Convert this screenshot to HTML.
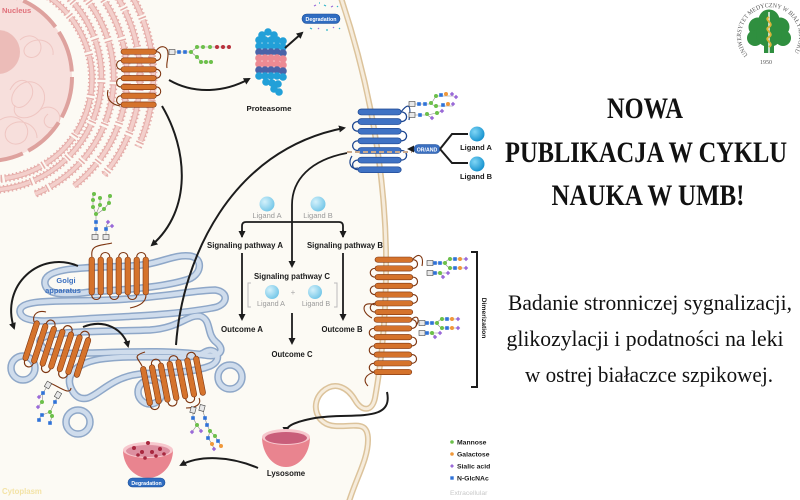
<!DOCTYPE html>
<html><head><meta charset="utf-8">
<style>
html,body{margin:0;padding:0;background:#fff;}
svg{display:block;}
text{font-family:"Liberation Sans",sans-serif;}
.s{font-family:"Liberation Serif",serif;}
.b{font-weight:bold;}
</style></head><body>
<svg width="800" height="500" viewBox="0 0 800 500" xmlns="http://www.w3.org/2000/svg">
<defs>
 <marker id="ah" markerWidth="8" markerHeight="8" refX="5" refY="4" orient="auto" markerUnits="userSpaceOnUse"><path d="M0,0.5 L7,4 L0,7.5 Z" fill="#1c1c1c"/></marker>
 <g id="r7h">
  <rect x="0" y="0" width="36" height="5.5" rx="2.75" stroke-width=".6"/>
  <rect x="0" y="9" width="36" height="5.5" rx="2.75" stroke-width=".6"/>
  <rect x="0" y="18" width="36" height="5.5" rx="2.75" stroke-width=".6"/>
  <rect x="0" y="27" width="36" height="5.5" rx="2.75" stroke-width=".6"/>
  <rect x="0" y="36" width="36" height="5.5" rx="2.75" stroke-width=".6"/>
  <rect x="0" y="45" width="36" height="5.5" rx="2.75" stroke-width=".6"/>
  <rect x="0" y="54" width="36" height="5.5" rx="2.75" stroke-width=".6"/>
  <path fill="none" stroke-width="1.1" d="M36,2.75c6,0 6,9 0,9 M0,11.75c-6,0 -6,9 0,9 M36,20.75c6,0 6,9 0,9 M0,29.75c-6,0 -6,9 0,9 M36,38.75c6,0 6,9 0,9 M0,47.75c-6,0 -6,9 0,9"/>
 </g>
 <g id="r7v">
  <rect x="0" y="0" width="5.5" height="38" rx="2.75" stroke-width=".6"/>
  <rect x="9" y="0" width="5.5" height="38" rx="2.75" stroke-width=".6"/>
  <rect x="18" y="0" width="5.5" height="38" rx="2.75" stroke-width=".6"/>
  <rect x="27" y="0" width="5.5" height="38" rx="2.75" stroke-width=".6"/>
  <rect x="36" y="0" width="5.5" height="38" rx="2.75" stroke-width=".6"/>
  <rect x="45" y="0" width="5.5" height="38" rx="2.75" stroke-width=".6"/>
  <rect x="54" y="0" width="5.5" height="38" rx="2.75" stroke-width=".6"/>
  <path fill="none" stroke-width="1.1" d="M2.75,38c0,6 9,6 9,0 M11.75,0c0,-6 9,-6 9,0 M20.75,38c0,6 9,6 9,0 M29.75,0c0,-6 9,-6 9,0 M38.75,38c0,6 9,6 9,0 M47.75,0c0,-6 9,-6 9,0"/>
 </g>
 <circle id="gm" r="2" fill="#6cc04a"/>
 <circle id="gg" r="2" fill="#f0983a"/>
 <circle id="gr" r="2" fill="#b8323c"/>
 <rect id="gn" x="-1.8" y="-1.8" width="3.6" height="3.6" fill="#2f72d8"/>
 <path id="gs" d="M0,-2.2 L2.2,0 L0,2.2 L-2.2,0Z" fill="#9a6ad8"/>
 <rect id="gb" x="-3" y="-2.5" width="6" height="5" fill="#e8e8e8" stroke="#444" stroke-width=".6"/>
 <radialGradient id="lb" cx=".35" cy=".35" r=".75"><stop offset="0" stop-color="#d4f1fb"/><stop offset="1" stop-color="#6cc3e6"/></radialGradient>
 <radialGradient id="db" cx=".35" cy=".35" r=".75"><stop offset="0" stop-color="#7fd6f6"/><stop offset="1" stop-color="#0d8ccb"/></radialGradient>
 <g id="golgi">
  <path d="M45,284 C42,266 90,268 130,266 C160,265 172,254 190,256 C204,258 202,276 186,280 C160,288 120,290 90,292 C60,296 47,294 45,284 Z"/>
  <path d="M20,312 C18,298 60,302 110,300 C160,298 195,290 215,290 C230,292 228,306 212,308 C180,314 140,316 100,318 C60,320 22,326 20,312 Z"/>
  <path d="M40,342 C38,330 100,332 150,330 C180,328 188,314 200,316 C212,320 206,334 216,342 C226,350 220,358 204,355 C170,350 130,352 90,353 C60,354 42,354 40,342 Z"/>
  <path d="M72,390 C62,372 82,360 110,358 C150,354 190,362 205,352 C216,346 224,360 210,366 C190,374 160,372 140,374 C112,377 100,394 88,398 C80,400 75,396 72,390 Z"/>
  <circle cx="23" cy="368" r="12"/>
  <circle cx="78" cy="422" r="12"/>
  <circle cx="230" cy="377" r="12"/>
  <circle cx="150" cy="392" r="12"/>
 </g>
 <g id="er">
  <path d="M38,-9.6 A100,100 0 0 1 -54,168"/>
  <path d="M41,-23 A113,113 0 0 1 -8,190"/>
  <path d="M60,-26 A126,126 0 0 1 35,194"/>
  <path d="M77,-30 A139,139 0 0 1 74,186"/>
  <path d="M101,-25 A152,152 0 0 1 104,175"/>
  <path d="M123,-18 A165,165 0 0 1 138,147"/>
 </g>
</defs>

<!-- backgrounds -->
<rect width="800" height="500" fill="#ffffff"/>
<path d="M0,0 L340,0 C362,60 384,150 386,250 C387,320 380,370 375,398 C372,412 362,412 355,400 C348,388 335,380 322,392 C310,404 316,425 335,426 C355,427 368,420 368,440 C368,460 355,480 348,500 L0,500 Z" fill="#fcfaf4"/>

<!-- membrane -->
<path d="M340,-5 C362,60 384,150 386,250 C387,320 380,370 375,398 C372,412 362,412 355,400 C348,388 335,380 322,392 C310,404 316,425 335,426 C355,427 368,420 368,440 C368,460 355,480 348,505" fill="none" stroke="#dcc39b" stroke-width="6"/>
<path d="M340,-5 C362,60 384,150 386,250 C387,320 380,370 375,398 C372,412 362,412 355,400 C348,388 335,380 322,392 C310,404 316,425 335,426 C355,427 368,420 368,440 C368,460 355,480 348,505" fill="none" stroke="#f6ecdc" stroke-width="3"/>

<!-- nucleus -->
<circle cx="-12" cy="77" r="84" fill="#f7dfdc"/>
<g fill="none" stroke="#efc6c2" stroke-width="1">
 <path d="M10,90 c10,-20 30,-5 20,10 c-10,15 -25,5 -15,-10 c15,-20 40,0 25,20 c-10,12 -30,10 -25,-5"/>
 <path d="M0,120 c15,-10 35,5 25,20 c-10,10 -25,0 -18,-12 c10,-12 30,-5 30,10"/>
 <path d="M20,40 c10,-10 25,0 20,12 c-5,10 -20,5 -15,-5 c8,-12 30,-8 28,8"/>
 <path d="M40,110 c10,-8 25,2 18,14 c-8,10 -20,-2 -10,-10"/>
</g>
<circle cx="-2" cy="52" r="22" fill="#ecbcb8"/>
<circle cx="-12" cy="77" r="84" fill="none" stroke="#dea29e" stroke-width="4" stroke-dasharray="42 6"/>
<text x="2" y="13" font-size="7.5" class="b" fill="#e0707a">Nucleus</text>

<!-- ER -->
<use href="#er" fill="none" stroke="#e6adaa" stroke-width="8" stroke-dasharray="1.5 2.5"/>
<use href="#er" fill="none" stroke="#e6aeaa" stroke-width="5.5" stroke-dasharray="38 5"/>
<use href="#er" fill="none" stroke="#f3cfcb" stroke-width="3.5" stroke-dasharray="38 5"/>

<!-- ER receptor -->
<path d="M120,106 C110,104 106,98 108,90" fill="none" stroke="#7d3510" stroke-width="1.1"/>
<use href="#r7h" transform="translate(121,49) scale(0.98,0.98)" style="fill:#d5732c;stroke:#7d3510"/>
<path d="M156,51 C161,44 168,46 168,54 C168,60 166,64 167,68" fill="none" stroke="#7d3510" stroke-width="1.1"/>
<path d="M172,52 H191 L197,47 H229 M191,52 L197,57 L201,62 H211" fill="none" stroke="#888" stroke-width=".6"/>
<use href="#gb" x="172" y="52"/>
<use href="#gn" x="179" y="52"/><use href="#gn" x="185" y="52"/>
<use href="#gm" x="191" y="52"/><use href="#gm" x="197" y="47"/><use href="#gm" x="203" y="47"/><use href="#gm" x="210" y="47"/>
<use href="#gr" x="217" y="47"/><use href="#gr" x="223" y="47"/><use href="#gr" x="229" y="47"/>
<use href="#gm" x="197" y="57"/><use href="#gm" x="201" y="62"/><use href="#gm" x="206" y="62"/><use href="#gm" x="211" y="62"/>

<!-- Proteasome -->
<g>
 <circle cx="262" cy="35" r="3.8" fill="#22a0d8"/><circle cx="268" cy="32" r="3.8" fill="#22a0d8"/><circle cx="274" cy="35" r="3.8" fill="#22a0d8"/>
 <g fill="#22a0d8">
  <circle cx="259" cy="40" r="3.8"/><circle cx="265" cy="40" r="3.8"/><circle cx="271" cy="40" r="3.8"/><circle cx="277" cy="40" r="3.8"/><circle cx="283" cy="41" r="3.8"/>
  <circle cx="259" cy="46" r="3.8"/><circle cx="265" cy="46" r="3.8"/><circle cx="271" cy="46" r="3.8"/><circle cx="277" cy="46" r="3.8"/><circle cx="283" cy="47" r="3.8"/>
 </g>
 <g fill="#4a63a8">
  <circle cx="259" cy="52" r="3.8"/><circle cx="265" cy="52" r="3.8"/><circle cx="271" cy="52" r="3.8"/><circle cx="277" cy="52" r="3.8"/><circle cx="283" cy="53" r="3.8"/>
 </g>
 <g fill="#ec8a93">
  <circle cx="259" cy="58" r="3.8"/><circle cx="265" cy="58" r="3.8"/><circle cx="271" cy="58" r="3.8"/><circle cx="277" cy="58" r="3.8"/><circle cx="283" cy="59" r="3.8"/>
  <circle cx="259" cy="64" r="3.8"/><circle cx="265" cy="64" r="3.8"/><circle cx="271" cy="64" r="3.8"/><circle cx="277" cy="64" r="3.8"/><circle cx="283" cy="65" r="3.8"/>
 </g>
 <g fill="#4a63a8">
  <circle cx="259" cy="70" r="3.8"/><circle cx="265" cy="70" r="3.8"/><circle cx="271" cy="70" r="3.8"/><circle cx="277" cy="70" r="3.8"/><circle cx="283" cy="71" r="3.8"/>
 </g>
 <g fill="#22a0d8">
  <circle cx="259" cy="76" r="3.8"/><circle cx="265" cy="76" r="3.8"/><circle cx="271" cy="76" r="3.8"/><circle cx="277" cy="76" r="3.8"/><circle cx="283" cy="77" r="3.8"/>
  <circle cx="266" cy="82" r="3.8"/><circle cx="272" cy="83" r="3.8"/><circle cx="278" cy="84" r="3.8"/>
  <circle cx="274" cy="89" r="3.8"/><circle cx="279" cy="92" r="3.8"/>
 </g>
</g>
<text x="269" y="111" font-size="7.5" class="b" fill="#1a1a1a" text-anchor="middle" textLength="45" lengthAdjust="spacingAndGlyphs">Proteasome</text>
<path d="M285,48 L302,33" stroke="#1c1c1c" stroke-width="2" fill="none" marker-end="url(#ah)"/>
<rect x="302" y="14" width="38" height="9.5" rx="4.7" fill="#2f6cc0" stroke="#1d4f97" stroke-width=".6"/>
<text x="321" y="21" font-size="5.3" fill="#fff" text-anchor="middle" class="b">Degradation</text>
<g stroke-width="1.2" fill="none">
 <path d="M314,6 l2,-1" stroke="#9a6ad8"/><path d="M324,5 l2,1" stroke="#2fb3c8"/><path d="M331,7 l2,-1" stroke="#9a6ad8"/><path d="M337,6 l1,1" stroke="#2fb3c8"/>
 <path d="M310,28 l2,1" stroke="#2fb3c8"/><path d="M318,29 l1,-1" stroke="#9a6ad8"/><path d="M326,30 l2,0" stroke="#2fb3c8"/><path d="M333,27 l1,1" stroke="#9a6ad8"/>
 <path d="M319,3 l1,0" stroke="#2fb3c8"/><path d="M339,28 l1,1" stroke="#2fb3c8"/>
</g>

<!-- arrows ER -->
<path d="M169,80 C195,95 225,92 249,79" stroke="#1c1c1c" stroke-width="2" fill="none" marker-end="url(#ah)"/>
<path d="M162,106 C188,150 192,210 152,245" stroke="#1c1c1c" stroke-width="2" fill="none" marker-end="url(#ah)"/>

<!-- Golgi -->
<use href="#golgi" fill="none" stroke="#8ea7c8" stroke-width="7.5"/>
<use href="#golgi" fill="none" stroke="#cfdcec" stroke-width="4.5"/>
<text x="66" y="283" font-size="7.5" class="b" fill="#3b6fbf" text-anchor="middle">Golgi</text>
<text x="63" y="293" font-size="7.5" class="b" fill="#3b6fbf" text-anchor="middle">apparatus</text>

<!-- Golgi arrows -->
<path d="M78,266 C40,250 0,285 14,328" stroke="#1c1c1c" stroke-width="2" fill="none" marker-end="url(#ah)"/>
<path d="M83,327 C105,318 124,330 128,346" stroke="#1c1c1c" stroke-width="2" fill="none" marker-end="url(#ah)"/>

<!-- R1 -->
<path d="M112,243 C100,246 90,244 92,257" fill="none" stroke="#7d3510" stroke-width="1.1"/>
<use href="#r7v" transform="translate(89,257)" style="fill:#d5732c;stroke:#7d3510"/>
<path d="M146,295 C146,302 140,306 130,308" fill="none" stroke="#7d3510" stroke-width="1.1"/>
<path d="M96,237 V214 L93,207 V194 M96,214 L100,205 V198 M97,214 L104,209 L109,203 V196 M106,237 V227 L108,222 M106,227 L112,226" fill="none" stroke="#888" stroke-width=".6"/>
<use href="#gn" x="96" y="229"/><use href="#gn" x="96" y="222"/>
<use href="#gm" x="96" y="214"/><use href="#gm" x="93" y="207"/><use href="#gm" x="93" y="200"/><use href="#gm" x="94" y="194"/>
<use href="#gm" x="100" y="205"/><use href="#gm" x="100" y="198"/><use href="#gm" x="104" y="209"/><use href="#gm" x="109" y="203"/><use href="#gm" x="110" y="196"/>
<use href="#gn" x="106" y="229"/><use href="#gs" x="108" y="222"/><use href="#gs" x="112" y="226"/>
<use href="#gb" x="95" y="237"/><use href="#gb" x="106" y="237"/>

<!-- R2 -->
<path d="M34,322 C32,314 38,310 46,312" fill="none" stroke="#7d3510" stroke-width="1.1"/>
<use href="#r7v" transform="translate(35,320) rotate(18) scale(1,1.1)" style="fill:#d5732c;stroke:#7d3510"/>
<path d="M71,388 C70,396 58,386 48,382" fill="none" stroke="#7d3510" stroke-width="1.1"/>
<path d="M48,385 L43,393 L39,397 M43,393 L42,402 L38,407 M58,395 L55,402 L50,412 L42,415 L39,419 M50,412 L52,416 L50,423" fill="none" stroke="#888" stroke-width=".6"/>
<use href="#gn" x="43" y="393"/><use href="#gs" x="39" y="397"/><use href="#gm" x="42" y="402"/><use href="#gs" x="38" y="407"/>
<use href="#gn" x="55" y="402"/><use href="#gm" x="50" y="412"/><use href="#gn" x="42" y="415"/><use href="#gn" x="39" y="420"/><use href="#gm" x="52" y="416"/><use href="#gn" x="50" y="423"/>
<use href="#gb" x="48" y="385" transform="rotate(-60 48 385)"/><use href="#gb" x="58" y="395" transform="rotate(-60 58 395)"/>

<!-- R3 -->
<path d="M142,366 C138,358 132,356 145,352" fill="none" stroke="#7d3510" stroke-width="1.1"/>
<use href="#r7v" transform="translate(140,367) rotate(-11) scale(1,1.05)" style="fill:#d5732c;stroke:#7d3510"/>
<path d="M199,398 C202,404 196,408 186,408" fill="none" stroke="#7d3510" stroke-width="1.1"/>
<path d="M193,410 L193,418 L197,425 L192,432 M197,425 L201,431 M202,408 L205,418 L207,425 L210,431 L215,436 L218,441 L221,446 M210,431 L208,438 L212,444 L214,449" fill="none" stroke="#888" stroke-width=".6"/>
<use href="#gn" x="193" y="418"/><use href="#gm" x="197" y="425"/><use href="#gs" x="192" y="432"/><use href="#gs" x="201" y="431"/>
<use href="#gn" x="205" y="418"/><use href="#gn" x="207" y="425"/><use href="#gm" x="210" y="431"/><use href="#gm" x="215" y="436"/><use href="#gn" x="218" y="441"/><use href="#gg" x="221" y="446"/>
<use href="#gn" x="208" y="438"/><use href="#gg" x="212" y="444"/><use href="#gs" x="214" y="449"/>
<use href="#gb" x="193" y="410" transform="rotate(-75 193 410)"/><use href="#gb" x="202" y="408" transform="rotate(-75 202 408)"/>

<!-- Golgi to membrane arrow -->
<path d="M176,345 C182,260 230,150 344,128" stroke="#1c1c1c" stroke-width="2" fill="none" marker-end="url(#ah)"/>

<!-- Blue receptor -->
<path d="M358,168 C350,170 348,162 352,156" fill="none" stroke="#1d4690" stroke-width="1.2"/>
<use href="#r7h" transform="translate(358,109) scale(1.2,1.07)" style="fill:#3f72c4;stroke:#1d4690"/>
<path d="M401,112 C407,104 412,102 409,120" fill="none" stroke="#1d4690" stroke-width="1.2"/>
<path d="M347,152 H412" stroke="#c9a98c" stroke-width="2" stroke-dasharray="5 3"/>
<path d="M412,104 H431 L436,96 H454 M431,104 L435,106 H453 M412,115 H427 L432,118 M427,115 L437,113 L442,111" fill="none" stroke="#888" stroke-width=".6"/>
<use href="#gb" x="412" y="104"/><use href="#gn" x="419" y="104"/><use href="#gn" x="425" y="104"/><use href="#gm" x="431" y="103"/>
<use href="#gm" x="436" y="96"/><use href="#gn" x="441" y="95"/><use href="#gg" x="446" y="94"/><use href="#gs" x="452" y="94"/><use href="#gs" x="456" y="97"/>
<use href="#gm" x="436" y="106"/><use href="#gn" x="443" y="105"/><use href="#gg" x="448" y="104"/><use href="#gs" x="453" y="104"/>
<use href="#gb" x="412" y="115"/><use href="#gn" x="420" y="115"/><use href="#gm" x="427" y="114"/><use href="#gs" x="432" y="118"/><use href="#gm" x="437" y="113"/><use href="#gs" x="442" y="111"/>

<!-- OR/AND -->
<path d="M414,149 H409" stroke="#1c1c1c" stroke-width="2" marker-end="url(#ah)"/>
<rect x="414" y="144.5" width="26" height="9" rx="4.5" fill="#3a6fc0" stroke="#1d4f97" stroke-width=".6"/>
<text x="427" y="151.3" font-size="5.2" class="b" fill="#fff" text-anchor="middle">OR/AND</text>
<path d="M440,149 L452,134 H468 M440,149 L452,163 H468" fill="none" stroke="#1c1c1c" stroke-width="2"/>
<circle cx="477" cy="134" r="7.5" fill="url(#db)"/>
<circle cx="477" cy="164" r="7.5" fill="url(#db)"/>
<text x="476" y="150" font-size="7.5" class="b" fill="#1a1a1a" text-anchor="middle">Ligand A</text>
<text x="476" y="179" font-size="7.5" class="b" fill="#1a1a1a" text-anchor="middle">Ligand B</text>

<!-- signaling -->
<path d="M347,153 C310,160 292,180 292,205 L292,266" stroke="#1c1c1c" stroke-width="1.8" fill="none" marker-end="url(#ah)"/>
<path d="M242,237 V226 Q242,222 246,222 H339 Q343,222 343,226 V237" stroke="#1c1c1c" stroke-width="1.8" fill="none"/>
<path d="M242,230 V236" stroke="#1c1c1c" stroke-width="1.8" marker-end="url(#ah)"/>
<path d="M343,230 V236" stroke="#1c1c1c" stroke-width="1.8" marker-end="url(#ah)"/>
<circle cx="267" cy="204" r="7.5" fill="url(#lb)"/>
<circle cx="318" cy="204" r="7.5" fill="url(#lb)"/>
<text x="267" y="218" font-size="7.5" fill="#9a9a9a" text-anchor="middle">Ligand A</text>
<text x="318" y="218" font-size="7.5" fill="#9a9a9a" text-anchor="middle">Ligand B</text>
<text x="245" y="248" font-size="7.8" class="b" fill="#1a1a1a" text-anchor="middle" textLength="76" lengthAdjust="spacingAndGlyphs">Signaling pathway A</text>
<text x="345" y="248" font-size="7.8" class="b" fill="#1a1a1a" text-anchor="middle" textLength="76" lengthAdjust="spacingAndGlyphs">Signaling pathway B</text>
<path d="M242,253 V319" stroke="#1c1c1c" stroke-width="1.8" marker-end="url(#ah)"/>
<path d="M343,253 V319" stroke="#1c1c1c" stroke-width="1.8" marker-end="url(#ah)"/>
<text x="292" y="279" font-size="7.8" class="b" fill="#1a1a1a" text-anchor="middle" textLength="76" lengthAdjust="spacingAndGlyphs">Signaling pathway C</text>
<path d="M251,283 H248 V307 H251 M334,283 H337 V307 H334" fill="none" stroke="#bbbbbb" stroke-width="1"/>
<circle cx="272" cy="292" r="7" fill="url(#lb)"/>
<circle cx="315" cy="292" r="7" fill="url(#lb)"/>
<text x="293" y="295" font-size="8" fill="#aaaaaa" text-anchor="middle">+</text>
<text x="271" y="306" font-size="7.2" fill="#9a9a9a" text-anchor="middle">Ligand A</text>
<text x="316" y="306" font-size="7.2" fill="#9a9a9a" text-anchor="middle">Ligand B</text>
<path d="M292,313 V343" stroke="#1c1c1c" stroke-width="1.8" marker-end="url(#ah)"/>
<text x="242" y="332" font-size="7.8" class="b" fill="#1a1a1a" text-anchor="middle" textLength="42" lengthAdjust="spacingAndGlyphs">Outcome A</text>
<text x="342" y="332" font-size="7.8" class="b" fill="#1a1a1a" text-anchor="middle" textLength="41" lengthAdjust="spacingAndGlyphs">Outcome B</text>
<text x="292" y="357" font-size="7.8" class="b" fill="#1a1a1a" text-anchor="middle" textLength="41" lengthAdjust="spacingAndGlyphs">Outcome C</text>

<!-- dimer receptor -->
<path d="M375,305 C362,300 360,312 372,318" fill="none" stroke="#7d3510" stroke-width="1.1"/>
<path d="M375,372 C366,374 362,380 368,386" fill="none" stroke="#7d3510" stroke-width="1.1"/>
<use href="#r7h" transform="translate(375,257) scale(1.05,0.97)" style="fill:#d5732c;stroke:#7d3510"/>
<use href="#r7h" transform="translate(374,317) scale(1.05,0.97)" style="fill:#d5732c;stroke:#7d3510"/>
<path d="M413,259 C419,252 424,256 422,266" fill="none" stroke="#7d3510" stroke-width="1.1"/>
<path d="M412,319 C418,314 420,320 416,326" fill="none" stroke="#7d3510" stroke-width="1.1"/>
<g fill="none" stroke="#888" stroke-width=".6">
 <path d="M430,263 H444 L449,259 H466 M444,263 L449,268 H466 M430,273 H439 L443,276 M439,273 L448,273"/>
 <path d="M422,323 H436 L441,319 H458 M436,323 L441,328 H458 M422,333 H431 L435,336 M431,333 L440,333"/>
</g>
<use href="#gb" x="430" y="263"/><use href="#gn" x="435" y="263"/><use href="#gn" x="440" y="263"/><use href="#gm" x="445" y="263"/>
<use href="#gm" x="450" y="259"/><use href="#gn" x="455" y="259"/><use href="#gg" x="460" y="259"/><use href="#gs" x="466" y="259"/>
<use href="#gm" x="450" y="268"/><use href="#gn" x="455" y="268"/><use href="#gg" x="460" y="268"/><use href="#gs" x="466" y="268"/>
<use href="#gb" x="430" y="273"/><use href="#gn" x="435" y="273"/><use href="#gm" x="440" y="273"/><use href="#gs" x="443" y="277"/><use href="#gs" x="448" y="273"/>
<use href="#gb" x="422" y="323"/><use href="#gn" x="427" y="323"/><use href="#gn" x="432" y="323"/><use href="#gm" x="437" y="323"/>
<use href="#gm" x="442" y="319"/><use href="#gn" x="447" y="319"/><use href="#gg" x="452" y="319"/><use href="#gs" x="458" y="319"/>
<use href="#gm" x="442" y="328"/><use href="#gn" x="447" y="328"/><use href="#gg" x="452" y="328"/><use href="#gs" x="458" y="328"/>
<use href="#gb" x="422" y="333"/><use href="#gn" x="427" y="333"/><use href="#gm" x="432" y="333"/><use href="#gs" x="435" y="337"/><use href="#gs" x="440" y="333"/>

<!-- Dimerization bracket -->
<path d="M471,252 H477 V387 H471" fill="none" stroke="#1c1c1c" stroke-width="2"/>
<text transform="translate(482,318) rotate(90)" font-size="6.8" class="b" fill="#1a1a1a" text-anchor="middle">Dimerization</text>

<!-- Lysosome arrow -->
<path d="M387,392 C394,424 350,412 315,418 C294,422 286,426 286,432" stroke="#1c1c1c" stroke-width="2" fill="none" marker-end="url(#ah)"/>
<!-- Lysosome -->
<path d="M262,437 A24,30 0 0 0 310,437 Z" fill="#e9848f"/>
<ellipse cx="286" cy="437" rx="24" ry="8" fill="#f7c7cd"/>
<ellipse cx="286" cy="438" rx="21" ry="6" fill="#c95e7a"/>
<text x="286" y="476" font-size="7.8" class="b" fill="#1a1a1a" text-anchor="middle">Lysosome</text>
<path d="M258,468 C230,456 200,455 181,465" stroke="#1c1c1c" stroke-width="2" fill="none" marker-end="url(#ah)"/>

<!-- Degradation bowl -->
<path d="M123,450 A25,28 0 0 0 173,450 Z" fill="#e9848f"/>
<ellipse cx="148" cy="450" rx="25" ry="8" fill="#f7c7cd"/>
<ellipse cx="148" cy="451" rx="22" ry="6" fill="#dd8fa0"/>
<g fill="#a8283f">
 <circle cx="148" cy="443" r="2"/><circle cx="134" cy="448" r="2"/><circle cx="142" cy="452" r="2"/><circle cx="152" cy="452" r="2"/><circle cx="160" cy="449" r="2"/>
 <circle cx="138" cy="455" r="1.8"/><circle cx="156" cy="456" r="1.8"/><circle cx="145" cy="458" r="1.8"/><circle cx="164" cy="454" r="1.8"/>
</g>
<rect x="128" y="478" width="37" height="9" rx="4.5" fill="#2f6cc0" stroke="#1d4f97" stroke-width=".6"/>
<text x="146.5" y="484.8" font-size="5.2" class="b" fill="#fff" text-anchor="middle">Degradation</text>

<text x="2" y="494" font-size="7.8" class="b" fill="#f3e3a6">Cytoplasm</text>

<!-- legend -->
<circle cx="452" cy="442" r="1.8" fill="#6cc04a"/>
<circle cx="452" cy="454" r="1.8" fill="#f0983a"/>
<path d="M452,464 L454,466 L452,468 L450,466Z" fill="#9a6ad8"/>
<rect x="450.3" y="476.3" width="3.4" height="3.4" fill="#2f72d8"/>
<g font-size="6.8" class="b" fill="#1a1a1a">
 <text x="457" y="444.5">Mannose</text>
 <text x="457" y="456.5">Galactose</text>
 <text x="457" y="468.5">Sialic acid</text>
 <text x="457" y="480.5">N-GlcNAc</text>
</g>
<text x="450" y="495" font-size="6.8" fill="#c8c8c8">Extracellular</text>

<!-- Logo -->
<defs><path id="ring" d="M748,55 A29,29 0 1 1 792,55"/></defs>
<text class="s" font-size="6.2" fill="#555"><textPath href="#ring" textLength="128" lengthAdjust="spacingAndGlyphs">UNIWERSYTET MEDYCZNY W BIAŁYMSTOKU</textPath></text>
<g fill="#2f8f3f">
 <circle cx="769" cy="20" r="10.5"/><circle cx="758" cy="27" r="9.5"/><circle cx="780" cy="27" r="9.5"/>
 <circle cx="755" cy="38" r="8"/><circle cx="783" cy="38" r="8"/><circle cx="769" cy="34" r="13"/>
 <rect x="764" y="42" width="10" height="11"/>
</g>
<path d="M769,12 V53" stroke="#ffffff" stroke-width="1.4"/>
<path d="M769,17 c-6,3 6,6 0,10 c-6,3 6,6 0,10 c-6,3 6,6 0,10" fill="none" stroke="#d9b43a" stroke-width="2"/>
<text x="766" y="64" class="s" font-size="6" fill="#555" text-anchor="middle">1950</text>

<!-- Title -->
<g fill="#111">
 <text class="s" x="645" y="118" font-size="30" font-weight="bold" text-anchor="middle" textLength="76" lengthAdjust="spacingAndGlyphs">NOWA</text>
 <text class="s" x="646" y="162" font-size="30" font-weight="bold" text-anchor="middle" textLength="282" lengthAdjust="spacingAndGlyphs">PUBLIKACJA W CYKLU</text>
 <text class="s" x="648" y="205" font-size="30" font-weight="bold" text-anchor="middle" textLength="193" lengthAdjust="spacingAndGlyphs">NAUKA W UMB!</text>
</g>
<g fill="#111">
 <text class="s" x="650" y="310" font-size="22" text-anchor="middle" textLength="284" lengthAdjust="spacingAndGlyphs">Badanie stronniczej sygnalizacji,</text>
 <text class="s" x="645" y="346" font-size="22" text-anchor="middle" textLength="277" lengthAdjust="spacingAndGlyphs">glikozylacji i podatności na leki</text>
 <text class="s" x="649" y="382" font-size="22" text-anchor="middle" textLength="248" lengthAdjust="spacingAndGlyphs">w ostrej białaczce szpikowej.</text>
</g>
</svg>
</body></html>
